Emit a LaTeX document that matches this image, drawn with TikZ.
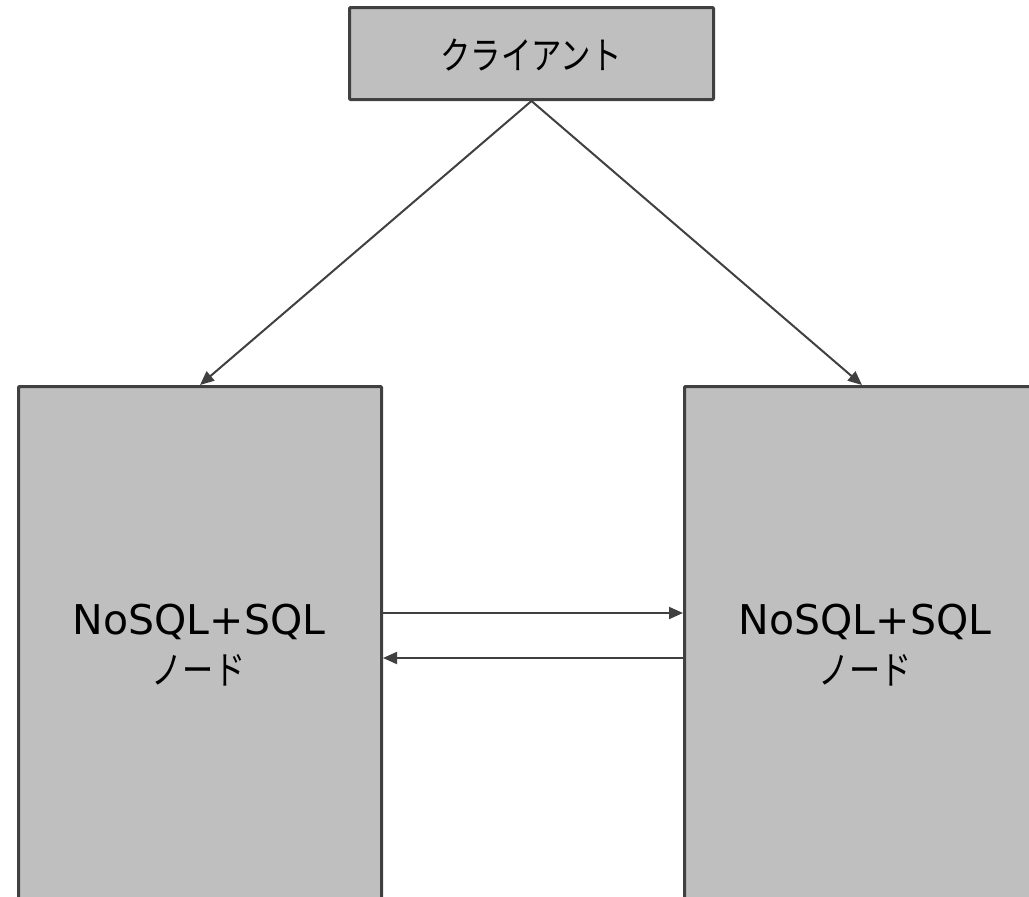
\documentclass[tikz,border=0pt]{standalone}
\usepackage{fontspec}
\setmainfont{DejaVu Sans}
\newfontfamily\jpfont[FakeStretch=0.8]{Noto Sans CJK JP}
\usetikzlibrary{arrows.meta}
\definecolor{edgegray}{HTML}{404040}
\definecolor{boxgray}{HTML}{BFBFBF}
\begin{document}
\begin{tikzpicture}[x=1pt,y=-1pt,
  boxstyle/.style={draw=edgegray,fill=boxgray,line width=3pt,rounded corners=1pt,inner sep=0pt,anchor=north west},
  conn/.style={draw=edgegray,line width=2pt,-{Triangle[length=14pt,width=12pt]}},
  lbl/.style={inner sep=0pt,text=black}]
\useasboundingbox (0,0) rectangle (1029,897);
\node[boxstyle,minimum width=364pt,minimum height=92pt] (client) at (348,6) {};
\node[lbl,font=\jpfont\fontsize{38pt}{44pt}\selectfont] (clienttext) at (531,55) {クライアント};
\node[boxstyle,minimum width=363pt,minimum height=600pt] (left) at (17,385) {};
\node[boxstyle,minimum width=364pt,minimum height=600pt] (right) at (683,385) {};
\node[lbl,anchor=base,font=\fontsize{41pt}{48pt}\selectfont] (l1) at (199,634) {NoSQL+SQL};
\node[lbl,font=\jpfont\fontsize{39pt}{46pt}\selectfont] (l2) at (198.5,670) {ノード};
\node[lbl,anchor=base,font=\fontsize{41pt}{48pt}\selectfont] (r1) at (865,634) {NoSQL+SQL};
\node[lbl,font=\jpfont\fontsize{39pt}{46pt}\selectfont] (r2) at (865,670) {ノード};
\coordinate (ltip) at (200,385);
\coordinate (rtip) at (862,385);
\draw[conn] (client.south) -- (ltip);
\draw[conn] (client.south) -- (rtip);
\draw[conn] (left.east |- 0,613) -- (right.west |- 0,613);
\draw[conn] (right.west |- 0,658) -- (left.east |- 0,658);
\end{tikzpicture}
\end{document}
